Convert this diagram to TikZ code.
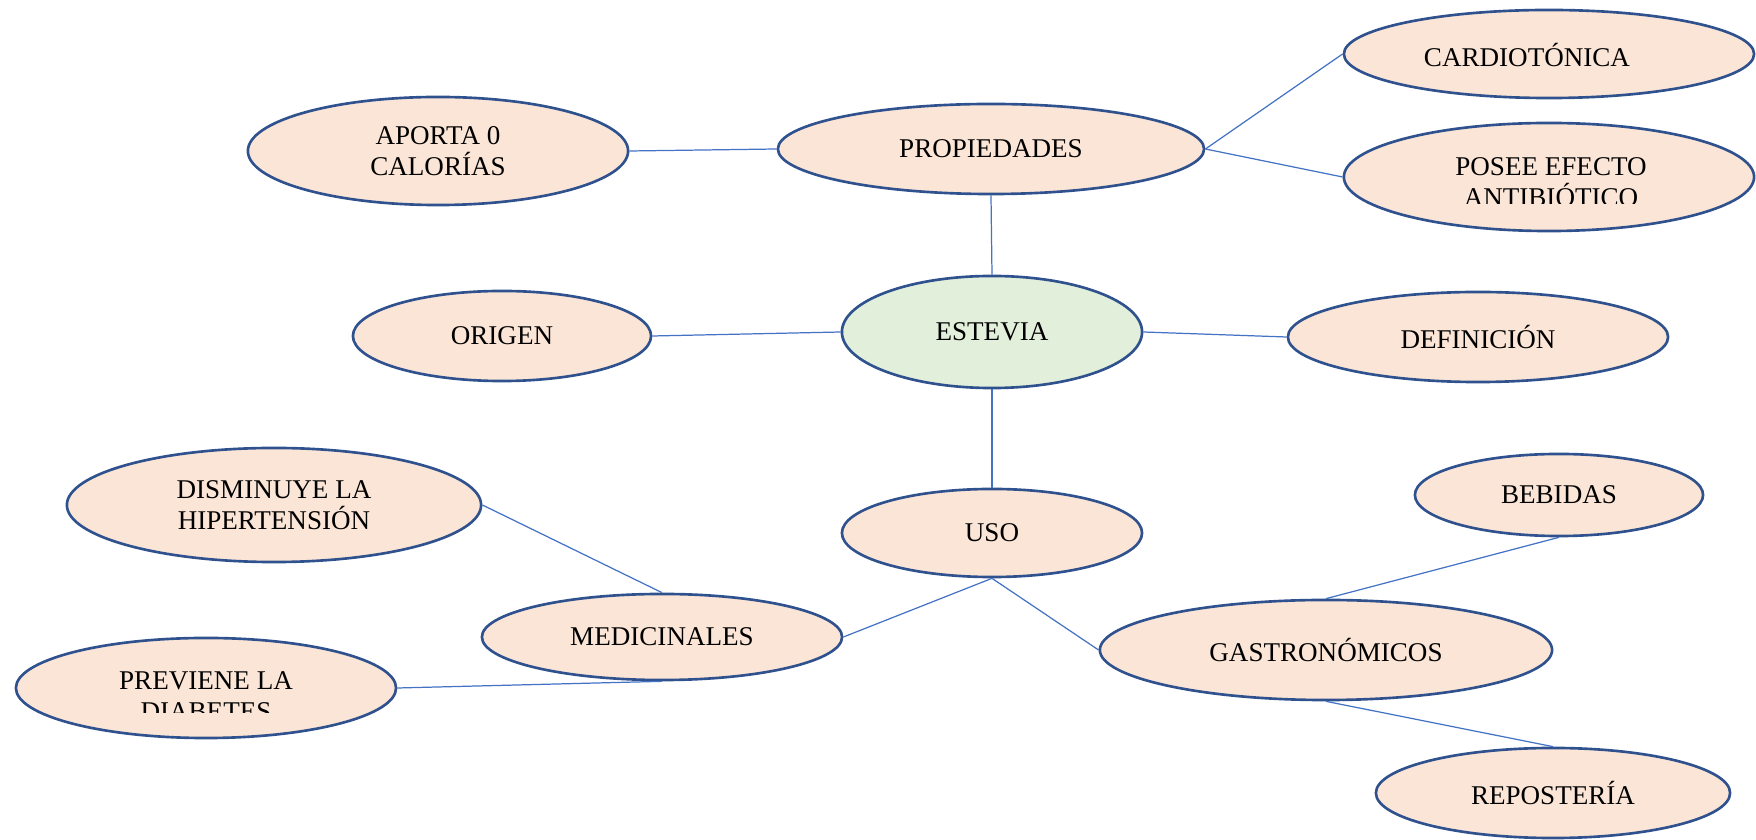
\documentclass[tikz,border=0pt]{standalone}
\usepackage{fontspec}
\setmainfont{Liberation Serif}
\usetikzlibrary{shapes, positioning}

\definecolor{peach}{HTML}{FBE5D6}
\definecolor{mint}{HTML}{E2EFDA}
\definecolor{rim}{HTML}{2F528F}
\definecolor{wire}{HTML}{4472C4}

\begin{document}
\begin{tikzpicture}[
    x=0.01cm, y=-0.01cm,
    wording/.style={font=\fontsize{7.7}{8.9}\selectfont, align=center, inner sep=0pt},
    idea/.style={ellipse, draw=rim, line width=0.75pt, fill=peach, wording},
    core/.style={idea, fill=mint},
    branch/.style={draw=wire, line width=0.35pt}
]
\useasboundingbox (0,0) rectangle (1756,840);

\node (Aporta) [idea, minimum width=3.80cm, minimum height=1.08cm] at (438,151) {APORTA 0\\CALORÍAS};
\node (Propiedades) [idea, minimum width=4.26cm, minimum height=0.90cm] at (991,149) {PROPIEDADES};
\node (Cardio) [idea, minimum width=4.10cm, minimum height=0.88cm] at (1549,54) {};
\node (Posee) [idea, minimum width=4.10cm, minimum height=1.08cm] at (1549,177) {};
\node (Origen) [idea, minimum width=2.98cm, minimum height=0.90cm] at (502,336) {ORIGEN};
\node (Estevia) [core, minimum width=3.00cm, minimum height=1.12cm] at (992,332) {ESTEVIA};
\node (Definicion) [idea, minimum width=3.80cm, minimum height=0.90cm] at (1478,337) {DEFINICIÓN};
\node (Disminuye) [idea, minimum width=4.14cm, minimum height=1.14cm] at (274,505) {DISMINUYE LA\\HIPERTENSIÓN};
\node (Uso) [idea, minimum width=3.00cm, minimum height=0.88cm] at (992,533) {USO};
\node (Bebidas) [idea, minimum width=2.88cm, minimum height=0.82cm] at (1559,495) {BEBIDAS};
\node (Medicinales) [idea, minimum width=3.60cm, minimum height=0.86cm] at (662,637) {MEDICINALES};
\node (Gastro) [idea, minimum width=4.52cm, minimum height=1.00cm] at (1326,650) {GASTRONÓMICOS};
\node (Previene) [idea, minimum width=3.80cm, minimum height=1.00cm] at (206,688) {};
\node (Reposteria) [idea, minimum width=3.54cm, minimum height=0.90cm] at (1553,793) {REPOSTERÍA};

\node (CardioText) [wording] at (1527,55) {CARDIOTÓNICA};

% text boxes cut off at the bottom
\begin{scope}
  \clip (1344,100) rectangle (1756,204);
  \node (PoseeText) [wording] at (1551,182) {POSEE EFECTO\\ANTIBIÓTICO};
\end{scope}
\begin{scope}
  \clip (16,630) rectangle (396,713);
  \node (PrevieneText) [wording] at (206,696) {PREVIENE LA\\DIABETES};
\end{scope}

\draw [branch] (Aporta.east) -- (Propiedades.west);
\draw [branch] (Propiedades.east) -- (Cardio.west);
\draw [branch] (Propiedades.east) -- (Posee.west);
\draw [branch] (Propiedades.south) -- (Estevia.north);
\draw [branch] (Origen.east) -- (Estevia.west);
\draw [branch] (Estevia.east) -- (Definicion.west);
\draw [branch] (Estevia.south) -- (Uso.north);
\draw [branch] (Uso.south) -- (Medicinales.east);
\draw [branch] (Uso.south) -- (Gastro.west);
\draw [branch] (Disminuye.east) -- (Medicinales.north);
\draw [branch] (Previene.east) -- (Medicinales.south);
\draw [branch] (Bebidas.south) -- (Gastro.north);
\draw [branch] (Gastro.south) -- (Reposteria.north);

\end{tikzpicture}
\end{document}
